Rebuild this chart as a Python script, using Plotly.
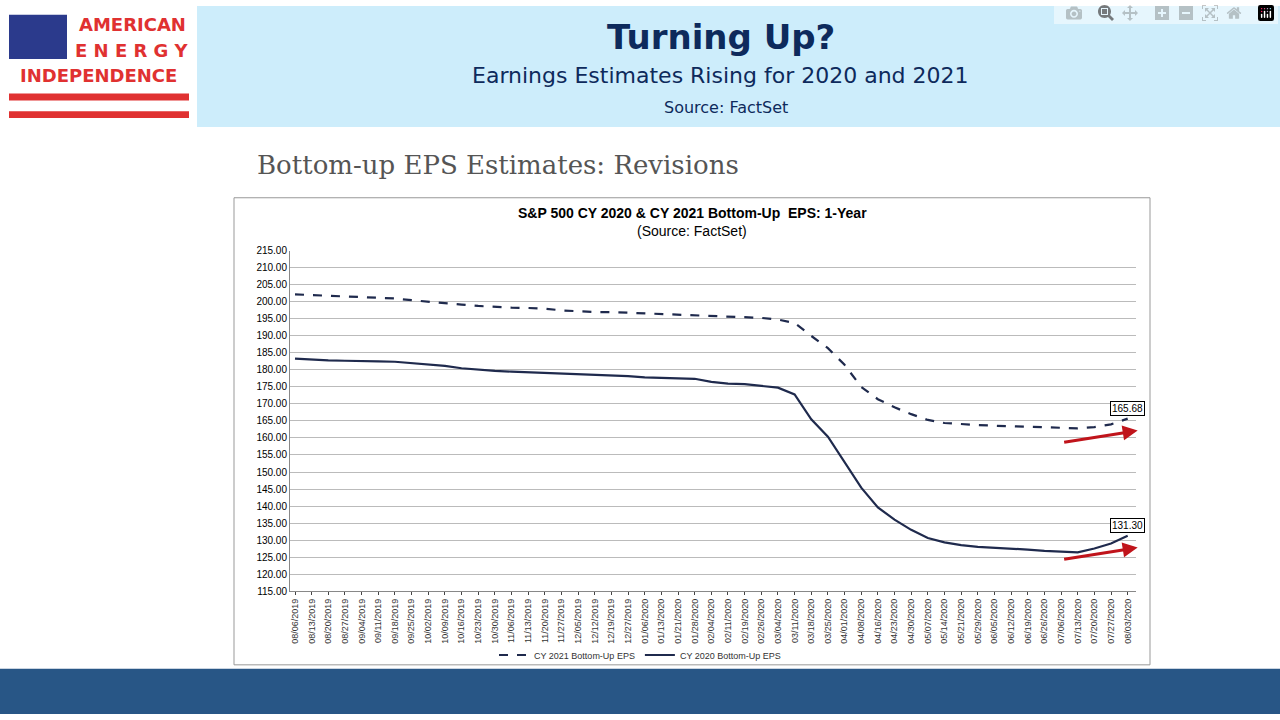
import plotly.graph_objects as go

dates = ["08/06/2019", "08/13/2019", "08/20/2019", "08/27/2019", "09/04/2019", "09/11/2019",
         "09/18/2019", "09/25/2019", "10/02/2019", "10/09/2019", "10/16/2019", "10/23/2019",
         "10/30/2019", "11/06/2019", "11/13/2019", "11/20/2019", "11/27/2019", "12/05/2019",
         "12/12/2019", "12/19/2019", "12/27/2019", "01/06/2020", "01/13/2020", "01/21/2020",
         "01/28/2020", "02/04/2020", "02/11/2020", "02/19/2020", "02/26/2020", "03/04/2020",
         "03/11/2020", "03/18/2020", "03/25/2020", "04/01/2020", "04/08/2020", "04/16/2020",
         "04/23/2020", "04/30/2020", "05/07/2020", "05/14/2020", "05/21/2020", "05/29/2020",
         "06/05/2020", "06/12/2020", "06/19/2020", "06/26/2020", "07/06/2020", "07/13/2020",
         "07/20/2020", "07/27/2020", "08/03/2020"]

eps_2021 = [202.2, 202.0, 201.8, 201.5, 201.2, 201.0, 201.0, 200.5, 200.0, 199.5,
            199.2, 198.8, 198.5, 198.3, 198.2, 198.0, 197.5, 197.2, 197.0, 197.0,
            196.8, 196.6, 196.5, 196.3, 196.0, 195.8, 195.6, 195.5, 195.3, 194.8,
            193.8, 190.0, 186.4, 181.5, 175.0, 171.4, 169.0, 167.0, 165.3, 164.4,
            164.0, 163.8, 163.6, 163.5, 163.4, 163.3, 163.0, 162.8, 163.2, 164.0, 165.68]

eps_2020 = [183.3, 183.0, 182.8, 182.7, 182.5, 182.5, 182.4, 182.0, 181.6, 181.2,
            180.5, 180.0, 179.7, 179.5, 179.3, 179.2, 179.0, 178.8, 178.6, 178.5,
            178.2, 177.8, 177.6, 177.5, 177.4, 176.5, 176.0, 175.8, 175.3, 174.8,
            172.8, 165.5, 160.4, 153.0, 145.4, 139.6, 136.0, 133.0, 130.6, 129.3,
            128.5, 128.0, 127.8, 127.5, 127.2, 126.8, 126.6, 126.4, 127.5, 129.0, 131.3]

y_ticks = [115 + 5 * i for i in range(21)]
navy = "#1f2a4d"

fig = go.Figure()
fig.add_trace(go.Scatter(x=dates, y=eps_2021, mode="lines", name="CY 2021 Bottom-Up EPS",
                         line=dict(color=navy, width=2.2, dash="dash")))
fig.add_trace(go.Scatter(x=dates, y=eps_2020, mode="lines", name="CY 2020 Bottom-Up EPS",
                         line=dict(color=navy, width=2.2)))

for series, label in [(eps_2021, "165.68"), (eps_2020, "131.30")]:
    fig.add_annotation(x=dates[-1], y=series[-1], text=label, showarrow=False,
                       yshift=10, xshift=0, bgcolor="white", bordercolor="black", borderwidth=1,
                       font=dict(size=10, color="black", family="Arial"), borderpad=1)
    # red arrows
    fig.add_annotation(x=dates[-1], y=series[-1] - 3.5, ax=-75, ay=12, xshift=10,
                       showarrow=True, arrowhead=2, arrowsize=1, arrowwidth=3,
                       arrowcolor="#c0141b", text="")

# page decoration
shapes = [
    dict(type="rect", xref="paper", yref="paper", x0=197/1280, x1=1, y0=1-123/720, y1=1,
         fillcolor="#cdedfb", line_width=0, layer="below"),
    dict(type="rect", xref="paper", yref="paper", x0=0, x1=1, y0=0, y1=46/720,
         fillcolor="#285686", line_width=0, layer="below"),
    dict(type="rect", xref="paper", yref="paper", x0=234/1280, x1=1150/1280, y0=1-670/720, y1=1-195/720,
         fillcolor="white", line=dict(color="#999999", width=1), layer="below"),
    dict(type="rect", xref="paper", yref="paper", x0=9/1280, x1=67/1280, y0=1-54/720, y1=1-9/720,
         fillcolor="#2b3a8c", line_width=0),
    dict(type="rect", xref="paper", yref="paper", x0=9/1280, x1=189/1280, y0=1-96/720, y1=1-89/720,
         fillcolor="#e03131", line_width=0),
    dict(type="rect", xref="paper", yref="paper", x0=9/1280, x1=189/1280, y0=1-114/720, y1=1-107/720,
         fillcolor="#e03131", line_width=0),
]

texts = [
    (721, 32, "<b>Turning Up?</b>", 34, "#0d2a5c", "Verdana, DejaVu Sans"),
    (720, 71, "Earnings Estimates Rising for 2020 and 2021", 22, "#0d2a5c", "Verdana, DejaVu Sans"),
    (726, 103, "Source: FactSet", 16, "#0d2a5c", "Verdana, DejaVu Sans"),
    (498, 162, "Bottom-up EPS Estimates: Revisions", 26, "#555555", "DejaVu Serif, Liberation Serif"),
    (692, 211, "<b>S&P 500 CY 2020 & CY 2021 Bottom-Up  EPS: 1-Year</b>", 14, "black", "Arial"),
    (692, 229, "(Source: FactSet)", 14, "black", "Arial"),
    (132, 19, "<b>AMERICAN</b>", 18, "#e03131", "Verdana, DejaVu Sans"),
    (132, 45, "<b>E N E R G Y</b>", 18, "#e03131", "Verdana, DejaVu Sans"),
    (98, 71, "<b>INDEPENDENCE</b>", 18, "#e03131", "Verdana, DejaVu Sans"),
]
annotations = list(fig.layout.annotations)
for x, y, t, s, c, f in texts:
    annotations.append(dict(x=x/1280, y=1-y/720, xref="paper", yref="paper", text=t, showarrow=False,
                            font=dict(size=s, color=c, family=f), xanchor="center", yanchor="middle"))

fig.update_layout(
    width=1280, height=720, margin=dict(l=0, r=0, t=0, b=0),
    paper_bgcolor="white", plot_bgcolor="white",
    shapes=shapes, annotations=annotations,
    showlegend=True,
    legend=dict(orientation="h", x=0.5, xanchor="center", y=1-660/720, yanchor="middle",
                font=dict(size=9, family="Arial", color="#333333"), bgcolor="rgba(0,0,0,0)"),
    xaxis=dict(domain=[290/1280, 1136/1280], tickangle=-90, tickfont=dict(size=9, family="Arial", color="#333333"),
               showgrid=False, showline=True, linecolor="#888888", ticks="outside", ticklen=3,
               range=[-0.3, 50.5]),
    yaxis=dict(domain=[1-595/720, 1-249/720], range=[115, 215], tickvals=y_ticks,
               ticktext=[f"{v:.2f}" for v in y_ticks], tickfont=dict(size=10, family="Arial", color="black"),
               showgrid=True, gridcolor="#bbbbbb", showline=True, linecolor="#888888"),
)

fig.write_html("out.html", post_script="document.body.style.margin='0';")
